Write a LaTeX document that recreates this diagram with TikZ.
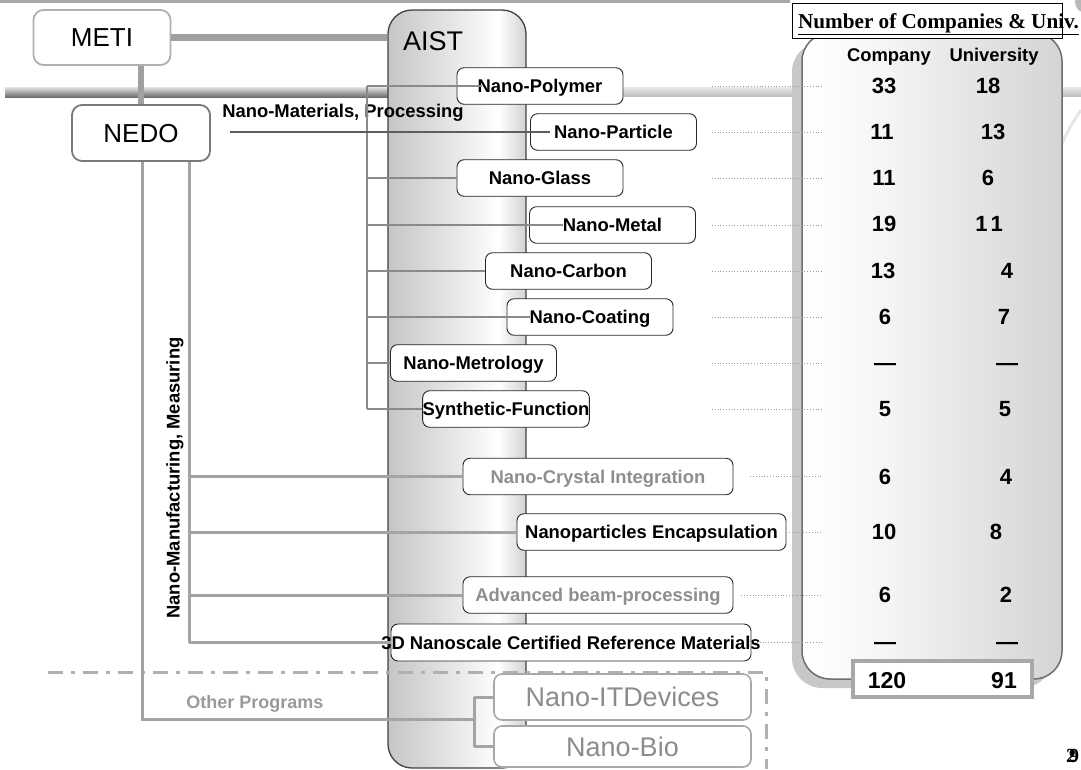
\documentclass[tikz,border=0pt]{standalone}
\usepackage{fontspec}
\setmainfont{Liberation Sans}
\newfontfamily\hdrfont{Liberation Serif}
\usetikzlibrary{calc}

\definecolor{lnGray}{HTML}{A4A4A4}
\definecolor{thickGray}{HTML}{A0A0A0}
\definecolor{metiBorder}{HTML}{B0B0B0}
\definecolor{nedoBorder}{HTML}{7A7A7A}
\definecolor{aistBorder}{HTML}{404040}
\definecolor{aistA}{HTML}{C6C6C6}
\definecolor{aistB}{HTML}{DADADA}
\definecolor{aistC}{HTML}{F7F7F7}
\definecolor{aistD}{HTML}{D2D2D2}
\definecolor{brGray}{HTML}{8A8A8A}
\definecolor{arrGray}{HTML}{5E5E5E}
\definecolor{dotGray}{HTML}{9A9A9A}
\definecolor{boxBorder}{HTML}{262626}
\definecolor{fadeText}{HTML}{8E8E8E}
\definecolor{progBorder}{HTML}{A8A8A8}
\definecolor{progText}{HTML}{8C8C8C}
\definecolor{otherText}{HTML}{9A9A9A}
\definecolor{dashGray}{HTML}{B0B0B0}
\definecolor{panelBorder}{HTML}{6E6E6E}
\definecolor{panelShadow}{HTML}{C8C8C8}
\definecolor{panelLight}{HTML}{F6F6F6}
\definecolor{panelDark}{HTML}{D4D4D4}
\definecolor{totalBorder}{HTML}{A8A8A8}
\definecolor{barTop}{HTML}{E4E4E4}
\definecolor{barMid}{HTML}{B4B4B4}
\definecolor{barBot}{HTML}{6E6E6E}
\definecolor{barRTop}{HTML}{E6E6E6}
\definecolor{barRBot}{HTML}{BDBDBD}
\definecolor{stripGray}{HTML}{A8A8A8}
\definecolor{logoGray}{HTML}{B8B8B8}
\definecolor{swooshGray}{HTML}{E6E6E6}

\pgfdeclarehorizontalshading{aistfill}{100bp}{color(0bp)=(aistA); color(25bp)=(aistA); color(40bp)=(aistB); color(60bp)=(aistC); color(65bp)=(white); color(75bp)=(aistD); color(100bp)=(aistD)}
\pgfdeclarehorizontalshading{panelfill}{100bp}{color(0bp)=(white); color(25bp)=(white); color(40bp)=(panelLight); color(75bp)=(panelDark); color(100bp)=(panelDark)}

\begin{document}
\begin{tikzpicture}[x=1pt,y=-1pt,
  boldtext/.style={font=\bfseries\fontsize{18.4}{20}\selectfont, text height=13.2pt, text depth=0pt, inner sep=0pt},
  topic/.style={boldtext, draw=boxBorder, line width=0.9pt, rounded corners=7pt, fill=white,
    minimum width=166pt, minimum height=36.5pt},
  orgbox/.style={rounded corners=10pt, line width=1.8pt, fill=white, inner sep=0pt,
    minimum width=137pt, minimum height=55pt,
    font=\fontsize{26}{30}\selectfont, text height=18.6pt, text depth=0pt},
  progbox/.style={draw=progBorder, line width=1.6pt, rounded corners=8pt, fill=white,
    minimum width=257pt, inner sep=0pt, text=progText,
    font=\fontsize{27}{30}\selectfont, text height=19.3pt, text depth=0pt},
  aistcol/.style={draw=aistBorder, line width=1.3pt, rounded corners=24pt, shade, shading=aistfill,
    minimum width=138pt, minimum height=758pt, inner sep=0pt},
  num/.style={font=\bfseries\fontsize{22}{24}\selectfont, text height=15.8pt, text depth=0pt, inner sep=0pt},
  totnum/.style={font=\bfseries\fontsize{23}{25}\selectfont, text height=16.5pt, text depth=0pt, inner sep=0pt},
  pagenum/.style={font=\hdrfont\bfseries\fontsize{20}{22}\selectfont, inner sep=0pt},
  thickln/.style={draw=thickGray, line width=7pt},
  lline/.style={draw=lnGray, line width=3pt},
  brline/.style={draw=brGray, line width=1.4pt},
  dotline/.style={draw=dotGray, line width=1pt, dash pattern=on 1pt off 1.8pt},
  dashdot/.style={draw=dashGray, line width=3pt, dash pattern=on 15pt off 8pt on 4pt off 8pt}
]
\useasboundingbox (0,0) rectangle (1081,769);

% backdrop: top strip, logo corner, horizontal rail and swoosh
\fill[stripGray] (0,0) rectangle (790,3.2);
\fill[logoGray] (1086,2) circle (11pt);
\shade[top color=barTop, middle color=barMid, bottom color=barBot] (5,87) rectangle (400,97);
\shade[top color=barRTop, bottom color=barRBot] (520,87.5) rectangle (1081,96.5);
\draw[swooshGray, line width=3pt] (1058,152) .. controls (1066,134) and (1073,121) .. (1081,110);

% AIST column
\node[aistcol] (aist) at (457,389) {};
\node[font=\fontsize{27}{30}\selectfont, text height=19.3pt, text depth=0pt, inner sep=0pt] (aistlbl) at (433,41) {AIST};

% METI and NEDO
\node[orgbox, draw=metiBorder] (meti) at (102,37.5) {METI};
\node[orgbox, draw=nedoBorder, minimum width=138pt, minimum height=56pt] (nedo) at (141,133) {NEDO};
\draw[thickln] (meti.east) -- (meti.east -| aist.west);
\draw[thickln, line width=6.5pt] (nedo.north) -- (nedo.north |- meti.south);

% dash-dot border of other programs
\coordinate (dd1) at (48,672);
\coordinate (dd2) at (766,672);
\coordinate (dd3) at (766,769);
\draw[dashdot] (dd1) -- (dd2) -- (dd3);

% table panel
\fill[panelShadow, rounded corners=30pt] (792,42) rectangle (1052,688);
\shadedraw[shading=panelfill, draw=panelBorder, line width=1.5pt, rounded corners=28pt] (802,33) rectangle (1062,679);

% topic boxes
\node[topic] (poly) at (540,86) {Nano-Polymer};
\node[topic] (part) at (613.5,132) {Nano-Particle};
\node[topic] (glass) at (540,178) {Nano-Glass};
\node[topic] (metal) at (612.5,225) {Nano-Metal};
\node[topic] (carbon) at (568.5,271) {Nano-Carbon};
\node[topic] (coat) at (590,317) {Nano-Coating};
\node[topic] (metro) at (473.5,363) {Nano-Metrology};
\node[topic] (synth) at (506,409) {Synthetic-Function};
\node[topic, minimum width=270pt, text=fadeText] (crystal) at (598,476.5) {Nano-Crystal Integration};
\node[topic, minimum width=269pt] (encap) at (651.5,532) {Nanoparticles Encapsulation};
\node[topic, minimum width=270pt, text=fadeText] (beam) at (598,595) {Advanced beam-processing};
\node[topic, minimum width=360pt, minimum height=37pt,
  label={[boldtext]center:3D Nanoscale Certified Reference Materials}] (ref3d) at (571,642.5) {};
\node[progbox, minimum height=46pt] (itdev) at (622.5,697) {Nano-ITDevices};
\node[progbox, minimum height=41pt] (bio) at (622.5,746.5) {Nano-Bio};

% Nano-Materials, Processing group
\coordinate (brk) at (367,0);
\coordinate (nedoin) at (230,0);
\node[boldtext] (matlbl) at (343,111) {Nano-Materials, Processing};
\draw[brline] (poly.west -| brk) -- (synth.west -| brk);
\draw[brline] (poly.west -| brk) -- ([xshift=25pt]poly.west);
\draw[brline] (glass.west -| brk) -- (glass.west);
\draw[brline] (metal.west -| brk) -- ([xshift=34pt]metal.west);
\draw[brline] (carbon.west -| brk) -- (carbon.west);
\draw[brline] (coat.west -| brk) -- ([xshift=23pt]coat.west);
\draw[brline] (metro.west -| brk) -- (metro.west);
\draw[brline] (synth.west -| brk) -- (synth.west);
\draw[draw=arrGray, line width=2.2pt] ([xshift=20pt]part.west) -- (part.west -| nedoin);

% Nano-Manufacturing, Measuring group
\coordinate (inx) at (189,0);
\coordinate (outx) at (142,0);
\coordinate (otherpt) at (474,719);
\node[boldtext, rotate=90] (manulbl) at (173,478) {Nano-Manufacturing, Measuring};
\draw[lline] (nedo.south -| inx) -- (ref3d.west -| inx);
\draw[lline] (crystal.west -| inx) -- (crystal.west);
\draw[lline] (encap.west -| inx) -- (encap.west);
\draw[lline] (beam.west -| inx) -- (beam.west);
\draw[lline] (ref3d.west -| inx) -- (ref3d.west);

% Other programs
\node[boldtext, font=\bfseries\fontsize{18}{20}\selectfont, text=otherText] (other) at (255,702) {Other Programs};
\draw[lline] (nedo.south -| outx) |- (otherpt);
\draw[lline] (itdev.west -| otherpt) -- (bio.west -| otherpt);
\draw[lline] (itdev.west -| otherpt) -- (itdev.west);
\draw[lline] (bio.west -| otherpt) -- (bio.west);

% dotted leaders to the table
\coordinate (dotx) at (712,0);
\coordinate (dotend) at (822,0);
\foreach \b in {poly,part,glass,metal,carbon,coat,metro,synth}
  \draw[dotline] (\b.east -| dotx) -- (\b.east -| dotend);
\draw[dotline] ([xshift=17pt]crystal.east) -- (crystal.east -| dotend);
\draw[dotline] ([xshift=3pt]encap.east) -- (encap.east -| dotend);
\draw[dotline] ([xshift=8pt]beam.east) -- (beam.east -| dotend);
\draw[dotline] ([xshift=0pt]ref3d.east) -- (ref3d.east -| dotend);

% table header
\node[draw=black, line width=1pt, fill=white, minimum width=270pt, minimum height=35pt, inner sep=0pt] (hdr) at (927,20.5) {};
\node[font=\hdrfont\bfseries\fontsize{21.2}{23}\selectfont, inner sep=0pt, text height=14pt, text depth=0pt] (hdrtxt) at (938.5,21.5) {\underline{Number of Companies \& Univ.}};
\node[boldtext] (hcomp) at (889,55) {Company};
\node[boldtext] (huniv) at (994,55) {University};

% counts
\node[num] (c1) at (884,86) {33};   \node[num] (u1) at (988,86) {18};
\node[num] (c2) at (882,132) {11};  \node[num] (u2) at (993,132) {13};
\node[num] (c3) at (884,178) {11};  \node[num] (u3) at (988,178) {6};
\node[num] (c4) at (884,224) {19};  \node[num] (u4) at (989,224) {1\kern3pt1};
\node[num] (c5) at (883,271) {13};  \node[num] (u5) at (1007,271) {4};
\node[num] (c6) at (885,317) {6};   \node[num] (u6) at (1004,317) {7};
\node[num] (c7) at (885,363) {\textemdash}; \node[num] (u7) at (1007,363) {\textemdash};
\node[num] (c8) at (885,409) {5};   \node[num] (u8) at (1005,409) {5};
\node[num] (c9) at (885,477) {6};   \node[num] (u9) at (1006,477) {4};
\node[num] (c10) at (884,532) {10}; \node[num] (u10) at (996,532) {8};
\node[num] (c11) at (885,595) {6};  \node[num] (u11) at (1006,595) {2};
\node[num] (c12) at (885,642) {\textemdash}; \node[num] (u12) at (1007,642) {\textemdash};

% totals
\node[draw=totalBorder, line width=4pt, fill=white, minimum width=179pt, minimum height=36pt, inner sep=0pt] (total) at (942.5,679) {};
\node[totnum] (ctot) at (887,680) {120};
\node[totnum] (utot) at (1004,680) {91};

% page number
\node[pagenum] (pg2) at (1071,756) {2};
\node[pagenum] (pg9) at (1074,756) {9};
\end{tikzpicture}
\end{document}
